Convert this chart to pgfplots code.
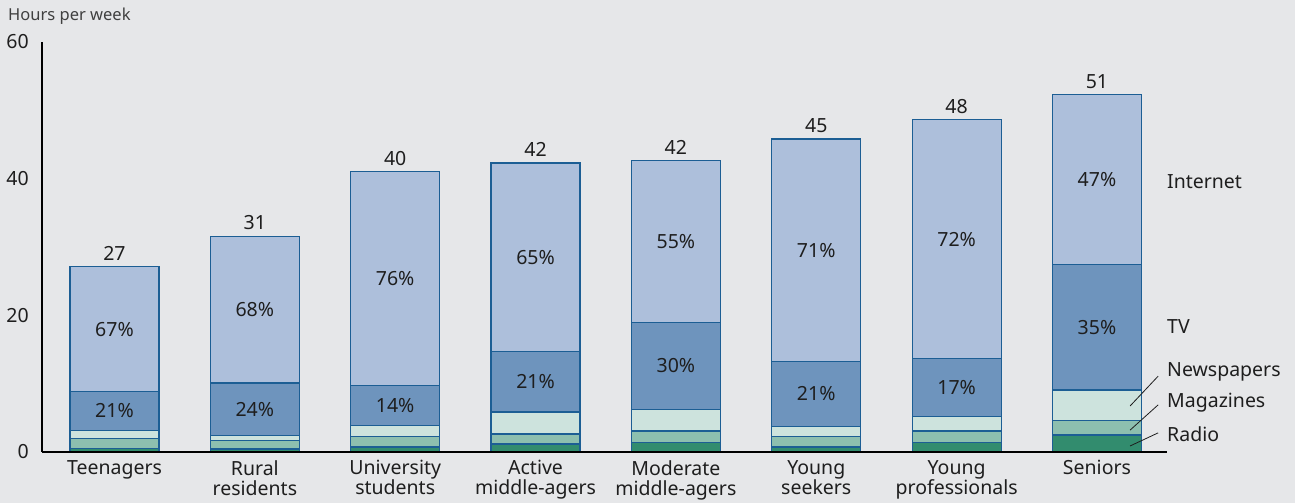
\documentclass[border=0pt]{standalone}
\usepackage{pgfplots}
\pgfplotsset{compat=1.18}
\usepackage{pgfplotstable}
\usepackage{fontspec}
\setmainfont{Noto Sans}
\definecolor{bg}{HTML}{E6E7E9}
\definecolor{cInt}{HTML}{ADBFDB}
\definecolor{cTV}{HTML}{6E94BD}
\definecolor{cNews}{HTML}{CDE3DD}
\definecolor{cMag}{HTML}{8DBFAF}
\definecolor{cRad}{HTML}{328C6E}
\definecolor{edge}{HTML}{1C5E94}
\definecolor{txt}{HTML}{1E1E1E}

\pgfplotstableread{
pos rad mag news tv net
0 0.45 1.55 1.20 5.60 18.30
1 0.44 1.21 0.80 7.65 21.50
2 0.73 1.51 1.66 5.80 31.30
3 1.17 1.47 3.22 8.84 27.60
4 1.42 1.65 3.18 12.75 23.60
5 0.73 1.51 1.46 9.60 32.50
6 1.42 1.65 2.10 8.53 34.90
7 2.49 2.09 4.50 18.32 24.90
}\mediatab

\begin{document}
\begin{tikzpicture}[font=\fontsize{19.5}{20}\selectfont]
\fill[bg] (0,0) rectangle (1295pt,503pt);
\useasboundingbox (0,0) rectangle (1295pt,503pt);
\node[anchor=west, inner sep=0, font=\fontsize{16.5}{18}\selectfont, text=black!75] at (8pt,487pt) {Hours per week};
\begin{axis}[
  at={(42pt,51pt)}, anchor=south west,
  scale only axis, width=1125pt, height=410pt,
  xmin=-0.5165, xmax=7.499, ymin=0, ymax=60,
  ybar stacked, bar width=89pt,
  axis x line*=bottom, axis y line*=left,
  axis line style={line width=1.2pt, black},
  axis on top,
  clip=false,
  /pgf/number format/assume math mode=true,
  ytick={0,20,40,60},
  major tick length=0pt,
  yticklabel style={anchor=east, inner sep=0pt, xshift=-13pt, font=\fontsize{19.5}{20}\selectfont, text=txt},
  xtick={0,...,7},
  xticklabels={Teenagers, {Rural\\residents}, {University\\students}, {Active\\middle-agers}, {Moderate\\middle-agers}, {Young\\seekers}, {Young\\professionals}, Seniors},
  xticklabel style={anchor=north, inner sep=0pt, yshift=-8pt, align=center, font=\fontsize{19.5}{20}\selectfont, text=txt},
]
\addplot[draw=edge, line width=1.1pt, fill=cRad] table[x=pos, y=rad] {\mediatab};
\addplot[draw=edge, line width=1.1pt, fill=cMag] table[x=pos, y=mag] {\mediatab};
\addplot[draw=edge, line width=1.1pt, fill=cNews] table[x=pos, y=news] {\mediatab};
\addplot[draw=edge, line width=1.1pt, fill=cTV] table[x=pos, y=tv] {\mediatab};
\addplot[draw=edge, line width=1.1pt, fill=cInt] table[x=pos, y=net] {\mediatab};

% totals
\coordinate (s0) at (axis cs:0,27.1);
\coordinate (s1) at (axis cs:1,31.6);
\coordinate (s2) at (axis cs:2,41.0);
\coordinate (s3) at (axis cs:3,42.3);
\coordinate (s4) at (axis cs:4,42.6);
\coordinate (s5) at (axis cs:5,45.8);
\coordinate (s6) at (axis cs:6,48.6);
\coordinate (s7) at (axis cs:7,52.3);
% TV mid
\coordinate (v0) at (axis cs:0,6.00);
\coordinate (v1) at (axis cs:1,6.28);
\coordinate (v2) at (axis cs:2,6.80);
\coordinate (v3) at (axis cs:3,10.28);
\coordinate (v4) at (axis cs:4,12.63);
\coordinate (v5) at (axis cs:5,8.50);
\coordinate (v6) at (axis cs:6,9.43);
\coordinate (v7) at (axis cs:7,18.24);
% Internet mid
\coordinate (n0) at (axis cs:0,17.95);
\coordinate (n1) at (axis cs:1,20.85);
\coordinate (n2) at (axis cs:2,25.35);
\coordinate (n3) at (axis cs:3,28.50);
\coordinate (n4) at (axis cs:4,30.80);
\coordinate (n5) at (axis cs:5,29.55);
\coordinate (n6) at (axis cs:6,31.15);
\coordinate (n7) at (axis cs:7,39.85);
% legend anchors
\coordinate (lI) at (axis cs:7.499,39.6);
\coordinate (lT) at (axis cs:7.499,18.3);
\coordinate (lN) at (axis cs:7.499,11.7);
\coordinate (lM) at (axis cs:7.499,7.2);
\coordinate (lR) at (axis cs:7.499,2.6);
\coordinate (a1) at (axis cs:7.236,6.73);
\coordinate (b1) at (axis cs:7.436,11.1);
\coordinate (a2) at (axis cs:7.236,3.2);
\coordinate (b2) at (axis cs:7.436,6.9);
\coordinate (a3) at (axis cs:7.236,0.88);
\coordinate (b3) at (axis cs:7.436,2.8);
\end{axis}
\begin{scope}[every node/.style={anchor=south, inner sep=0pt, yshift=6pt, text=txt}]
\node at (s0) {27}; \node at (s1) {31}; \node at (s2) {40}; \node at (s3) {42};
\node at (s4) {42}; \node at (s5) {45}; \node at (s6) {48}; \node at (s7) {51};
\end{scope}
\begin{scope}[every node/.style={inner sep=0pt, text=txt}]
\node at (v0) {21\%}; \node at (v1) {24\%}; \node at (v2) {14\%}; \node at (v3) {21\%};
\node at (v4) {30\%}; \node at (v5) {21\%}; \node at (v6) {17\%}; \node at (v7) {35\%};
\node at (n0) {67\%}; \node at (n1) {68\%}; \node at (n2) {76\%}; \node at (n3) {65\%};
\node at (n4) {55\%}; \node at (n5) {71\%}; \node at (n6) {72\%}; \node at (n7) {47\%};
\end{scope}
\begin{scope}[every node/.style={anchor=west, inner sep=0pt, text=txt}]
\node at (lI) {Internet};
\node at (lT) {TV};
\node at (lN) {Newspapers};
\node at (lM) {Magazines};
\node at (lR) {Radio};
\end{scope}
\draw[txt, line width=0.8pt] (a1) -- (b1);
\draw[txt, line width=0.8pt] (a2) -- (b2);
\draw[txt, line width=0.8pt] (a3) -- (b3);
\end{tikzpicture}
\end{document}
